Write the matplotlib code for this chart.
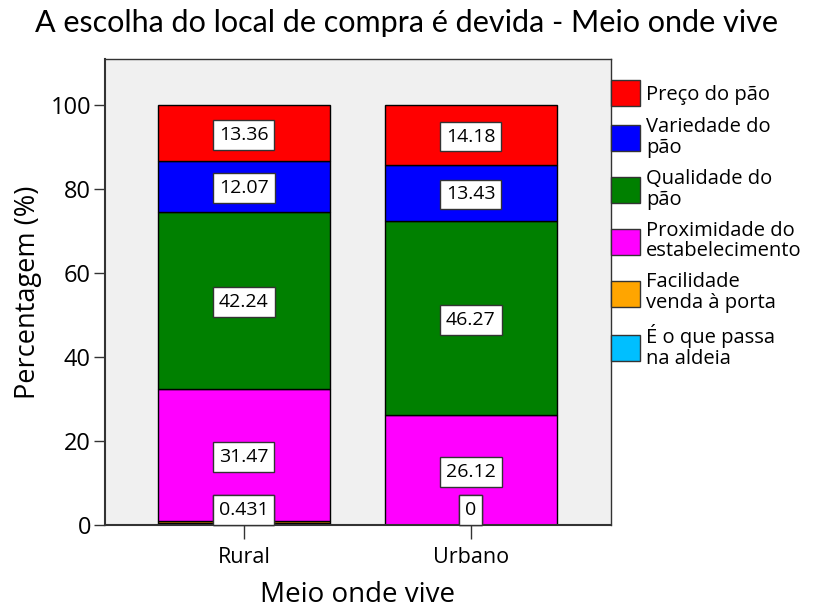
import numpy as np
from matplotlib import pyplot as plt

plt.rcParams['font.family'] = ['Open Sans', 'DejaVu Sans']

# data: percentage of each reason by place of residence
groups = ['Rural', 'Urbano']
reasons = ['Preço do pão', 'Variedade do\npão', 'Qualidade do\npão',
           'Proximidade do\nestabelecimento', 'Facilidade\nvenda à porta',
           'É o que passa\nna aldeia']
colors = ['#ff0000', '#0000ff', '#008000', '#ff00ff', '#ffa500', '#00bfff']

preco = [13.36, 14.18]
variedade = [12.07, 13.43]
qualidade = [42.24, 46.27]
proximidade = [31.47, 26.12]
facilidade = [0.431, 0.0]
aldeia = [0.431, 0.0]

series = [preco, variedade, qualidade, proximidade, facilidade, aldeia]

fig = plt.figure(figsize=(8.13, 6.09), dpi=100)
ax = fig.add_axes([0.129, 0.138, 0.6225, 0.765])
ax.set_facecolor('#f0f0f0')

x = np.arange(len(groups))
width = 0.758
bottom = np.zeros(len(groups))

# stack from the last legend entry upward, as in the legend order reversed
handles = []
for name, vals, col in reversed(list(zip(reasons, series, colors))):
    vals = np.array(vals)
    b = ax.bar(x, vals, width, bottom=bottom, color=col, edgecolor='black',
               linewidth=1, label=name)
    handles.append(b)
    for xi, v, bt in zip(x, vals, bottom):
        ypos = max(bt + v / 2, 3.9)
        txt = ('%.3f' % v).rstrip('0').rstrip('.') if v != 0 else '0'
        ax.text(xi, ypos - 0.4, txt, ha='center', va='center', fontsize=14,
                bbox=dict(boxstyle='square,pad=0.3', fc='white',
                          ec='#333333', lw=1))
    bottom += vals

ax.set_xlim(-0.612, 1.617)
ax.set_ylim(0, 110.95)
ax.set_xticks(x)
ax.set_xticklabels(groups, fontsize=15.5)
ax.set_yticks(np.arange(0, 101, 20))
ax.tick_params(axis='y', labelsize=17, length=8, width=1, color='#333333', pad=2)
ax.tick_params(axis='x', length=10, width=1, color='#333333', pad=6)
for s in ax.spines.values():
    s.set_color('#333333')
    s.set_linewidth(1)
ax.spines['left'].set_linewidth(1.5)
ax.spines['bottom'].set_linewidth(1.5)

ax.set_ylabel('Percentagem (%)', fontsize=19.5, labelpad=6)
ax.set_xlabel('Meio onde vive', fontsize=20, labelpad=9)
fig.suptitle('A escolha do local de compra é devida - Meio onde vive',
             fontsize=22, x=0.5, y=0.985, family=['Lato', 'DejaVu Sans'])

leg = ax.legend(handles[::-1], reasons, loc='upper left',
                bbox_to_anchor=(1.0, 0.955), frameon=False, fontsize=14.5,
                handlelength=1.45, handleheight=1.6, handletextpad=0.3,
                labelspacing=0.55, borderaxespad=0, borderpad=0)
for t in leg.get_texts():
    t.set_linespacing(1.05)
for p in leg.get_patches():
    p.set_edgecolor('#333333')

fig.savefig('out.png', dpi=100)
